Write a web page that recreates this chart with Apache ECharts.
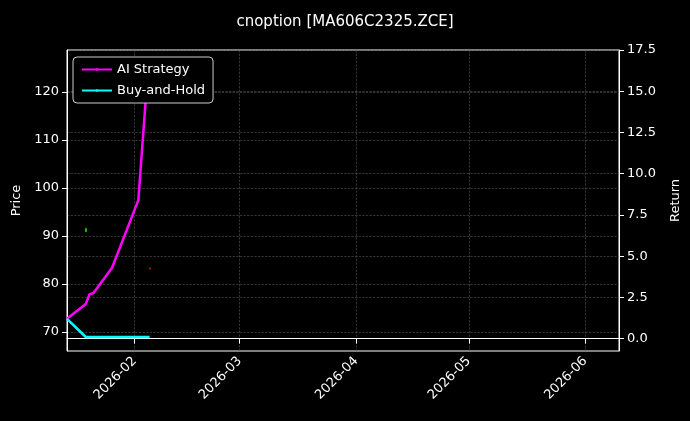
<!DOCTYPE html>
<html><head><meta charset="utf-8">
<script src="https://cdn.jsdelivr.net/npm/echarts@6/dist/echarts.min.js"></script>
<style>html,body{margin:0;background:#000}#c{width:690px;height:421px}</style>
</head><body><div id="c"></div>
<script>
const stratDates = ['2026-01-14','2026-01-19','2026-01-20','2026-01-21','2026-01-26','2026-02-02','2026-02-04','2026-02-05'];
const stratValues = [1.2, 2.1, 2.7, 2.75, 4.3, 8.4, 14.6, 16.9];
const holdDates = ['2026-01-14','2026-01-19','2026-02-05'];
const holdValues = [1.2, 0.1, 0.1];
const candleDates = ['2026-01-19','2026-02-05'];
const candleValues = [[90.9, 91.5, 90.8, 91.6], [83.3, 83.1, 83.0, 83.4]]; // open, close, low, high
const priceTicks = [70, 80, 90, 100, 110, 120];
const returnTicks = [0, 2.5, 5, 7.5, 10, 12.5, 15, 17.5];

const chart = echarts.init(document.getElementById('c'));
const grid = {lineStyle:{color:'#555', type:'dashed', width:0.6}};
chart.setOption({
  backgroundColor:'#000',
  animation:false,
  textStyle:{fontFamily:'DejaVu Sans'},
  title:{text:'cnoption [MA606C2325.ZCE]', left:'center', top:10, textStyle:{color:'#fff', fontSize:15, fontWeight:'normal'}},
  legend:{left:73, top:57, orient:'vertical', itemWidth:30, itemHeight:3, itemGap:8,
    borderColor:'#ccc', borderWidth:1, borderRadius:4, padding:[6,8], backgroundColor:'#000',
    textStyle:{color:'#fff', fontSize:13}, data:['AI Strategy','Buy-and-Hold']},
  grid:{left:67, right:70, top:50, bottom:70, show:true, borderColor:'#fff', borderWidth:1},
  xAxis:{type:'time', min:'2026-01-14', max:'2026-06-10', splitNumber:5,
    axisLine:{lineStyle:{color:'#fff'}}, axisTick:{lineStyle:{color:'#fff'}},
    axisLabel:{color:'#fff', rotate:45, fontSize:13, formatter:v=>{const d=new Date(v);return d.getFullYear()+'-'+String(d.getMonth()+1).padStart(2,'0');}},
    splitLine:Object.assign({show:true},grid)},
  yAxis:[
    {type:'value', name:'Price', nameLocation:'middle', nameGap:44, nameTextStyle:{color:'#fff', fontSize:13},
     min:66, max:128.75,
     axisLine:{show:true, lineStyle:{color:'#fff'}}, axisTick:{show:true, customValues:priceTicks},
     axisLabel:{color:'#fff', fontSize:13, customValues:priceTicks},
     splitLine:Object.assign({show:true},grid)},
    {type:'value', name:'Return', nameLocation:'middle', nameGap:50, nameTextStyle:{color:'#fff', fontSize:13},
     min:-0.75, max:17.5,
     axisLine:{show:true, lineStyle:{color:'#fff'}}, axisTick:{show:true, customValues:returnTicks},
     axisLabel:{color:'#fff', fontSize:13, customValues:returnTicks, formatter:v=>v.toFixed(1)},
     splitLine:Object.assign({show:true},grid)}
  ],
  series:[
    {type:'candlestick', yAxisIndex:0, barWidth:1.5,
     data:candleDates.map((d,i)=>[d].concat(candleValues[i])),
     itemStyle:{color:'#0c0', color0:'#c00', borderColor:'#0c0', borderColor0:'#c00'}},
    {name:'AI Strategy', type:'line', yAxisIndex:1, symbol:'none', color:'#ff00ff', lineStyle:{width:2.5},
     data:stratDates.map((d,i)=>[d, stratValues[i]])},
    {name:'Buy-and-Hold', type:'line', yAxisIndex:1, symbol:'none', color:'#00ffff', lineStyle:{width:2.5},
     data:holdDates.map((d,i)=>[d, holdValues[i]])}
  ]
});
</script></body></html>
